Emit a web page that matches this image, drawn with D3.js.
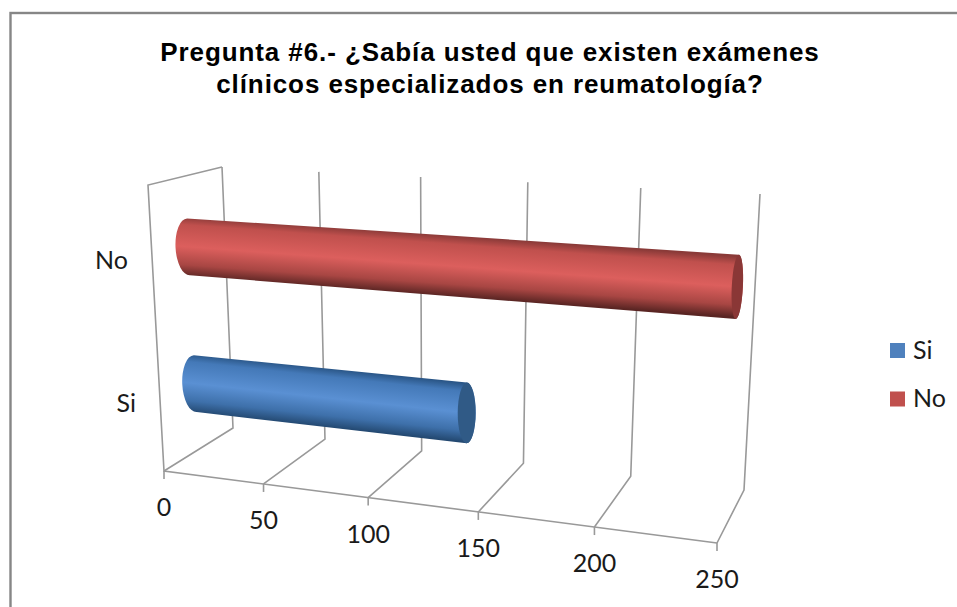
<!DOCTYPE html>
<html>
<head>
<meta charset="utf-8">
<script src="https://cdn.jsdelivr.net/npm/d3@7"></script>
<style>
  html, body { margin: 0; padding: 0; background: #fff; }
  svg { display: block; }
</style>
</head>
<body>
<svg id="chart" width="957" height="607"></svg>
<script>
const titleLines = ['Pregunta #6.- ¿Sabía usted que existen exámenes', 'clínicos especializados en reumatología?'];
const categories = ['Si', 'No'];
const values = [134, 248];
const valueTicks = [0, 50, 100, 150, 200, 250];
const barColors = ['#4f81bd', '#c0504d'];
const capColors = ['#305a86', '#8a3736'];
const barStops = [
    ['#2a5687', '#4479b8', '#5a90d3', '#3e70aa', '#234870'],
    ['#8a3a38', '#c0504d', '#dc5f5d', '#a84643', '#5a2523'],
];

const svg = d3.select('#chart');
const labelFont = 'Lato, "Open Sans", sans-serif';
const labelSize = 25;
const gridColor = '#999';

// box corners as seen on the page: [front 0, front 250, back 250, back 0]
const floorQuad = [[164, 471], [717, 543], [744, 490], [233, 428]];
const topQuad = [[148, 185], [733, 220], [760, 194], [222, 167]];

// foreshortening along the value axis
const perspective = 0.139;
const valueScale = d3.scaleLinear().domain([0, 250]).range([0, 1]);
const foreshorten = v => {
    const u = valueScale(v);
    return u / (1 + perspective * (1 - u));
};
const heightScale = d3.scaleBand().domain(categories).range([0, 1]);
const capScale = d3.scaleLinear().domain([0, 250]).range([13, 5.5]);

function onQuad(q, u, depth) {
    const front = d3.interpolateArray(q[0], q[1])(u);
    const back = d3.interpolateArray(q[3], q[2])(u);
    return d3.interpolateArray(front, back)(depth);
}

// value, depth (0 front, 1 back), height (0 floor, 1 top)
function project(value, depth, height) {
    const u = foreshorten(value);
    return d3.interpolateArray(onQuad(floorQuad, u, depth), onQuad(topQuad, u, depth))(height);
}

const line = d3.line();

// frame, runs off the right and bottom of the page
svg.append('rect')
    .attr('x', 10.5).attr('y', 13)
    .attr('width', 960).attr('height', 620)
    .attr('fill', '#fff')
    .attr('stroke', '#868686')
    .attr('stroke-width', 2.4);

// gridlines
const grid = svg.append('g')
    .attr('fill', 'none')
    .attr('stroke', gridColor)
    .attr('stroke-width', 1.6);

grid.selectAll('path.gridline')
    .data(valueTicks)
    .join('path')
    .attr('class', 'gridline')
    .attr('d', d => line([project(d, 0, 0), project(d, 1, 0), project(d, 1, 1)]));

grid.append('path')
    .attr('d', line([project(0, 1, 1), project(0, 0, 1), project(0, 0, 0), project(250, 0, 0)]));

grid.selectAll('path.tick')
    .data(valueTicks)
    .join('path')
    .attr('class', 'tick')
    .attr('d', d => {
        const [x, y] = project(d, 0, 0);
        return line([[x, y], [x, y + 8]]);
    });

// value labels
svg.append('g')
    .selectAll('text')
    .data(valueTicks)
    .join('text')
    .attr('x', d => project(d, 0, 0)[0])
    .attr('y', d => project(d, 0, 0)[1] + 45)
    .attr('text-anchor', 'middle')
    .attr('font-family', labelFont)
    .attr('font-size', labelSize)
    .attr('fill', '#1a1a1a')
    .text(d => d);

// category labels
const catPoint = d => project(0, 0, heightScale(d) + heightScale.bandwidth() / 2);
svg.append('g')
    .selectAll('text')
    .data(categories)
    .join('text')
    .attr('x', d => catPoint(d)[0] - 24)
    .attr('y', d => catPoint(d)[1] + 12.5)
    .attr('text-anchor', 'end')
    .attr('font-family', labelFont)
    .attr('font-size', labelSize)
    .attr('fill', '#1a1a1a')
    .text(d => d);

// cylinders
const defs = svg.append('defs');
const bars = svg.append('g');
const stopOffsets = [0, 0.14, 0.5, 0.8, 1];
const halfBar = 0.104;

categories.forEach((cat, i) => {
    const h = heightScale(cat) + heightScale.bandwidth() / 2 - 0.009;
    const v = values[i];
    const a0 = project(0, 0.5, h + halfBar), a1 = project(0, 0.5, h - halfBar);
    const b0 = project(v, 0.5, h + halfBar), b1 = project(v, 0.5, h - halfBar);
    const ry = (p, q) => Math.hypot(p[0] - q[0], p[1] - q[1]) / 2;
    const rotL = Math.atan2(a1[0] - a0[0], a0[1] - a1[1]) * 180 / Math.PI;
    const rotR = Math.atan2(b1[0] - b0[0], b0[1] - b1[1]) * 180 / Math.PI;
    const rL = capScale(0), rR = capScale(v);

    // shading runs square to the cylinder's axis, not to the page
    const midA = [(a0[0] + a1[0]) / 2, (a0[1] + a1[1]) / 2];
    const midB = [(b0[0] + b1[0]) / 2, (b0[1] + b1[1]) / 2];
    const axisLen = Math.hypot(midB[0] - midA[0], midB[1] - midA[1]);
    const nx = -(midB[1] - midA[1]) / axisLen, ny = (midB[0] - midA[0]) / axisLen;
    const c = [(midA[0] + midB[0]) / 2, (midA[1] + midB[1]) / 2];
    const r = (ry(a0, a1) + ry(b0, b1)) / 2;

    const gradient = defs.append('linearGradient')
        .attr('id', `bar-${i}`)
        .attr('gradientUnits', 'userSpaceOnUse')
        .attr('x1', c[0] - nx * r).attr('y1', c[1] - ny * r)
        .attr('x2', c[0] + nx * r).attr('y2', c[1] + ny * r);
    gradient.selectAll('stop')
        .data(barStops[i])
        .join('stop')
        .attr('offset', (d, j) => stopOffsets[j])
        .attr('stop-color', d => d);

    bars.append('path')
        .attr('d', `M${a0}L${b0}`
            + `A${rR},${ry(b0, b1)} ${rotR} 0 1 ${b1}`
            + `L${a1}`
            + `A${rL},${ry(a0, a1)} ${rotL} 0 1 ${a0}Z`)
        .attr('fill', `url(#bar-${i})`);

    bars.append('ellipse')
        .attr('rx', rR)
        .attr('ry', ry(b0, b1))
        .attr('transform', `translate(${midB[0]},${midB[1]}) rotate(${rotR})`)
        .attr('fill', capColors[i]);
});

// title
svg.append('text')
    .attr('text-anchor', 'middle')
    .attr('font-family', '"Liberation Sans", Arial, sans-serif')
    .attr('font-weight', 'bold')
    .attr('font-size', 26)
    .attr('letter-spacing', 0.9)
    .attr('fill', '#000')
    .selectAll('tspan')
    .data(titleLines)
    .join('tspan')
    .attr('x', 490)
    .attr('y', (d, i) => 60.5 + i * 32.5)
    .text(d => d);

// legend
const legendScale = d3.scalePoint().domain(categories).range([350.5, 399]);
const legend = svg.append('g')
    .selectAll('g')
    .data(categories)
    .join('g')
    .attr('transform', d => `translate(890,${legendScale(d)})`);

legend.append('rect')
    .attr('x', 0).attr('y', -7.5)
    .attr('width', 15).attr('height', 15)
    .attr('fill', (d, i) => barColors[i]);

legend.append('text')
    .attr('x', 23)
    .attr('y', 8)
    .attr('font-family', labelFont)
    .attr('font-size', labelSize)
    .attr('fill', '#1a1a1a')
    .text(d => d);
</script>
</body>
</html>
